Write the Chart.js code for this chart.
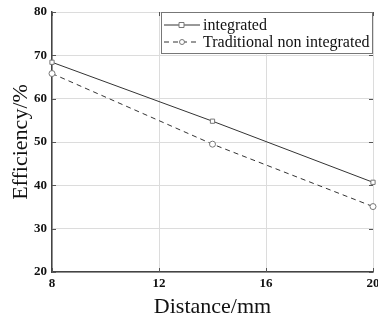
<!DOCTYPE html>
<html>
<head>
<meta charset="utf-8">
<script src="https://cdn.jsdelivr.net/npm/chart.js@4"></script>
<style>
  html, body { margin: 0; padding: 0; background: #fff; }
  #wrap { width: 378px; height: 323px; }
</style>
</head>
<body>
<div id="wrap"><canvas id="chart" width="378" height="323"></canvas></div>
<script>
const distance = [8, 14, 20];
const integrated = [68.4, 54.8, 40.7];
const traditional = [65.8, 49.5, 35.1];
const seriesNames = ['integrated', 'Traditional non integrated'];
const xTicks = [8, 12, 16, 20];
const yTicks = [20, 30, 40, 50, 60, 70, 80];

const serif = '"Liberation Serif", "Times New Roman", serif';
const lineColor = '#333';

function toPoints(xs, ys) {
    return xs.map((x, i) => ({ x: x, y: ys[i] }));
}

// frame, inward tick marks and the legend box
const framePlugin = {
    id: 'frame',
    afterDatasetsDraw(chart) {
        const ctx = chart.ctx;
        const a = chart.chartArea;
        const xs = chart.scales.x;
        const ys = chart.scales.y;
        ctx.save();
        ctx.strokeStyle = '#555';
        ctx.lineWidth = 1;
        xTicks.forEach(v => {
            const px = Math.round(xs.getPixelForValue(v)) + 0.5;
            ctx.beginPath();
            ctx.moveTo(px, a.bottom); ctx.lineTo(px, a.bottom - 4);
            ctx.moveTo(px, a.top); ctx.lineTo(px, a.top + 4);
            ctx.stroke();
        });
        yTicks.forEach(v => {
            const py = Math.round(ys.getPixelForValue(v)) + 0.5;
            ctx.beginPath();
            ctx.moveTo(a.left, py); ctx.lineTo(a.left + 4, py);
            ctx.moveTo(a.right, py); ctx.lineTo(a.right - 4, py);
            ctx.stroke();
        });

        // legend
        const lx = 161, ly = a.top, lw = a.right - lx, lh = 41;
        ctx.fillStyle = '#fff';
        ctx.fillRect(lx, ly, lw, lh);
        ctx.strokeStyle = '#777';
        ctx.strokeRect(lx + 0.5, ly + 0.5, lw - 1, lh);
        ctx.font = '16px ' + serif;
        ctx.textBaseline = 'middle';
        ctx.textAlign = 'left';
        chart.data.datasets.forEach((ds, i) => {
            const cy = ly + 13 + i * 17;
            ctx.strokeStyle = lineColor;
            ctx.setLineDash(ds.borderDash || []);
            ctx.beginPath();
            ctx.moveTo(lx + 3, cy); ctx.lineTo(lx + 39, cy);
            ctx.stroke();
            ctx.setLineDash([]);
            ctx.fillStyle = '#fff';
            ctx.strokeStyle = '#777';
            ctx.beginPath();
            if (ds.pointStyle === 'rect') {
                ctx.rect(lx + 18, cy - 2.5, 5, 5);
            } else {
                ctx.arc(lx + 21, cy, 2.5, 0, Math.PI * 2);
            }
            ctx.fill(); ctx.stroke();
            ctx.fillStyle = '#111';
            ctx.fillText(ds.label, lx + 42, cy + 1);
        });
        ctx.restore();
    }
};

new Chart(document.getElementById('chart'), {
    type: 'line',
    data: {
        datasets: [{
            label: seriesNames[0],
            data: toPoints(distance, integrated),
            borderColor: lineColor,
            borderWidth: 1,
            pointStyle: 'rect',
            pointRadius: 3,
            pointBackgroundColor: '#fff',
            pointBorderColor: '#777',
            tension: 0,
            clip: false
        }, {
            label: seriesNames[1],
            data: toPoints(distance, traditional),
            borderColor: lineColor,
            borderWidth: 1,
            borderDash: [5, 4],
            pointStyle: 'circle',
            pointRadius: 3,
            pointBackgroundColor: '#fff',
            pointBorderColor: '#777',
            tension: 0,
            clip: false
        }]
    },
    options: {
        responsive: false,
        animation: false,
        layout: { padding: { left: 0, right: 3, top: 12, bottom: 0 } },
        plugins: {
            legend: { display: false },
            tooltip: { enabled: false }
        },
        scales: {
            x: {
                type: 'linear',
                min: 8, max: 20,
                afterBuildTicks: s => { s.ticks = xTicks.map(v => ({ value: v })); },
                afterFit: s => { s.height = 51; s.paddingRight = 0; s.paddingLeft = 0; },
                grid: { color: '#dcdcdc', tickLength: 0, drawTicks: false },
                border: { color: '#444', width: 1.5 },
                ticks: {
                    color: '#111', padding: 4,
                    font: { family: serif, size: 13, weight: 'bold' }
                },
                title: {
                    display: true, text: 'Distance/mm', color: '#111',
                    font: { family: serif, size: 22 }, padding: { top: 0, bottom: 3 }
                }
            },
            y: {
                min: 20, max: 80,
                afterBuildTicks: s => { s.ticks = yTicks.map(v => ({ value: v })); },
                afterFit: s => { s.width = 52; s.paddingTop = 0; s.paddingBottom = 0; },
                grid: { color: '#dcdcdc', tickLength: 0, drawTicks: false },
                border: { color: '#444', width: 1.5 },
                ticks: {
                    color: '#111', padding: 5,
                    font: { family: serif, size: 13, weight: 'bold' }
                },
                title: {
                    display: true, text: 'Efficiency/%', color: '#111',
                    font: { family: serif, size: 22 }, padding: { top: 8, bottom: 0 }
                }
            }
        }
    },
    plugins: [framePlugin]
});
</script>
</body>
</html>
